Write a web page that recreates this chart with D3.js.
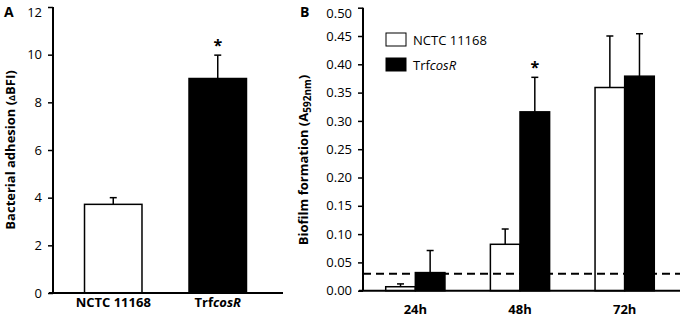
<!DOCTYPE html>
<html>
<head>
<meta charset="utf-8">
<script src="https://cdn.jsdelivr.net/npm/d3@7"></script>
<style>
  body { margin: 0; background: #fff; }
  svg { display: block; font-family: "Open Sans", sans-serif; }
  .axis path, .axis line { stroke: #000; }
  .axis text { font-size: 13px; fill: #000; font-family: "Open Sans", sans-serif; }
  .xlab text { font-weight: bold; }
</style>
</head>
<body>
<div id="chart"></div>
<script>
// Panel A: adhesion
const strains = ["NCTC 11168", "TrfcosR"];
const adhesion = [3.72, 9.0];
const adhesionErr = [0.28, 0.98];
const adhesionTicks = [0, 2, 4, 6, 8, 10, 12];

// Panel B: biofilm over time
const times = ["24h", "48h", "72h"];
const biofilmWT = [0.007, 0.082, 0.359];
const biofilmWTErr = [0.005, 0.027, 0.091];
const biofilmMut = [0.032, 0.316, 0.379];
const biofilmMutErr = [0.039, 0.061, 0.075];
const biofilmTicks = [0, 0.05, 0.1, 0.15, 0.2, 0.25, 0.3, 0.35, 0.4, 0.45, 0.5];
const threshold = 0.03;

const fills = ["#fff", "#000"];

const svg = d3.select("#chart").append("svg")
    .attr("width", 680)
    .attr("height", 319);

function styleAxis(g) {
    g.select(".domain").attr("stroke-width", 2);
    g.selectAll(".tick line").attr("stroke-width", 1.5);
}

// top tick label sits a bit lower so it isn't clipped
function nudgeTop(g) {
    const texts = g.selectAll(".tick text").nodes();
    d3.select(texts[texts.length - 1]).attr("dy", "0.75em");
}

// ---------- Panel A ----------
const xA = d3.scaleBand().domain(strains).range([61, 270])
    .paddingInner(0.45).paddingOuter(0.225);
const yA = d3.scaleLinear().domain([0, 12]).range([293, 7]);

const gA = svg.append("g");

gA.selectAll(".errA")
    .data(strains)
    .enter().append("g")
    .each(function(d, i) {
        const cx = xA(d) + xA.bandwidth() / 2;
        const top = yA(adhesion[i] + adhesionErr[i]);
        const g = d3.select(this);
        g.append("line").attr("x1", cx).attr("x2", cx)
            .attr("y1", yA(adhesion[i])).attr("y2", top)
            .attr("stroke", "#000").attr("stroke-width", 1.5);
        g.append("line").attr("x1", cx - 3.5).attr("x2", cx + 3.5)
            .attr("y1", top).attr("y2", top)
            .attr("stroke", "#000").attr("stroke-width", 1.5);
    });

gA.selectAll(".barA")
    .data(strains)
    .enter().append("rect")
    .attr("x", d => xA(d))
    .attr("width", xA.bandwidth())
    .attr("y", (d, i) => yA(adhesion[i]))
    .attr("height", (d, i) => yA(0) - yA(adhesion[i]))
    .attr("fill", (d, i) => fills[i])
    .attr("stroke", "#000")
    .attr("stroke-width", 1.5);

gA.append("g")
    .attr("class", "axis")
    .attr("transform", "translate(53,0)")
    .call(d3.axisLeft(yA).tickValues(adhesionTicks).tickSize(5).tickSizeOuter(0).tickPadding(6))
    .call(styleAxis)
    .call(nudgeTop)
    .call(g => g.select(".domain").attr("d", `M0,${yA(12)}V${yA(0)}`));

const xAxisA = gA.append("g")
    .attr("class", "axis xlab")
    .attr("transform", `translate(0,${yA(0)})`)
    .call(d3.axisBottom(xA).tickSize(0).tickPadding(5))
    .call(styleAxis)
    .call(g => g.select(".domain").attr("d", "M49,0H283"));

xAxisA.selectAll(".tick text").each(function(d) {
    if (d === "TrfcosR") {
        const t = d3.select(this).text(null);
        t.append("tspan").text("Trf");
        t.append("tspan").attr("font-style", "italic").text("cosR");
    }
});

gA.append("text")
    .attr("x", xA("TrfcosR") + xA.bandwidth() / 2)
    .attr("y", yA(adhesion[1] + adhesionErr[1]) - 4)
    .attr("text-anchor", "middle")
    .attr("font-size", 16).attr("font-weight", "bold")
    .text("*");

gA.append("text")
    .attr("x", 4).attr("y", 17)
    .attr("font-size", 14).attr("font-weight", "bold")
    .text("A");

const labA = gA.append("text")
    .attr("transform", "translate(15,150) rotate(-90)")
    .attr("text-anchor", "middle")
    .attr("font-size", 13).attr("font-weight", "bold");
labA.append("tspan").text("Bacterial adhesion (");
labA.append("tspan").attr("font-size", 9).text("Δ");
labA.append("tspan").text("BFI)");

// ---------- Panel B ----------
const x0 = d3.scaleBand().domain(times).range([363, 677])
    .paddingInner(0.434).paddingOuter(0.217);
const series = ["wt", "mut"];
const x1 = d3.scaleBand().domain(series).range([0, x0.bandwidth()]);
const yB = d3.scaleLinear().domain([0, 0.5]).range([290.7, 7.7]);

const rowsB = times.map((t, i) => [
    {t: t, s: "wt", v: biofilmWT[i], e: biofilmWTErr[i], fill: fills[0]},
    {t: t, s: "mut", v: biofilmMut[i], e: biofilmMutErr[i], fill: fills[1]}
]).flat();

const gB = svg.append("g");

gB.selectAll(".errB")
    .data(rowsB)
    .enter().append("g")
    .each(function(d) {
        const cx = x0(d.t) + x1(d.s) + x1.bandwidth() / 2;
        const top = yB(d.v + d.e);
        const g = d3.select(this);
        g.append("line").attr("x1", cx).attr("x2", cx)
            .attr("y1", yB(d.v)).attr("y2", top)
            .attr("stroke", "#000").attr("stroke-width", 1.5);
        g.append("line").attr("x1", cx - 3.5).attr("x2", cx + 3.5)
            .attr("y1", top).attr("y2", top)
            .attr("stroke", "#000").attr("stroke-width", 1.5);
    });

gB.selectAll(".barB")
    .data(rowsB)
    .enter().append("rect")
    .attr("x", d => x0(d.t) + x1(d.s))
    .attr("width", x1.bandwidth())
    .attr("y", d => yB(d.v))
    .attr("height", d => yB(0) - yB(d.v))
    .attr("fill", d => d.fill)
    .attr("stroke", "#000")
    .attr("stroke-width", 1.5);

// detection threshold
gB.append("line")
    .attr("x1", 363).attr("x2", 680)
    .attr("y1", yB(threshold)).attr("y2", yB(threshold))
    .attr("stroke", "#000").attr("stroke-width", 2)
    .attr("stroke-dasharray", "8,5");

gB.append("g")
    .attr("class", "axis")
    .attr("transform", "translate(363,0)")
    .call(d3.axisLeft(yB).tickValues(biofilmTicks).tickFormat(d3.format(".2f"))
        .tickSize(5).tickSizeOuter(0).tickPadding(6))
    .call(styleAxis)
    .call(nudgeTop)
    .call(g => g.select(".domain").attr("d", `M0,${yB(0.5)}V${yB(0)}`));

gB.append("g")
    .attr("class", "axis xlab")
    .attr("transform", `translate(0,${yB(0)})`)
    .call(d3.axisBottom(x0).tickSize(0).tickPadding(14))
    .call(styleAxis)
    .call(g => g.select(".domain").attr("d", "M359,0H680"));

gB.append("text")
    .attr("x", x0("48h") + x1("mut") + x1.bandwidth() / 2)
    .attr("y", yB(biofilmMut[1] + biofilmMutErr[1]) - 4)
    .attr("text-anchor", "middle")
    .attr("font-size", 16).attr("font-weight", "bold")
    .text("*");

gB.append("text")
    .attr("x", 300).attr("y", 17)
    .attr("font-size", 14).attr("font-weight", "bold")
    .text("B");

const labB = gB.append("text")
    .attr("transform", "translate(308,160) rotate(-90)")
    .attr("text-anchor", "middle")
    .attr("font-size", 13).attr("font-weight", "bold");
labB.append("tspan").text("Biofilm formation (A");
labB.append("tspan").attr("font-size", 10).attr("dy", 3).text("592nm");
labB.append("tspan").attr("dy", -3).text(")");

// legend
const legendNames = ["NCTC 11168", "TrfcosR"];
const leg = gB.selectAll(".leg")
    .data(legendNames)
    .enter().append("g")
    .attr("transform", (d, i) => `translate(386,${33 + i * 25})`);
leg.append("rect")
    .attr("width", 20).attr("height", 13)
    .attr("fill", (d, i) => fills[i])
    .attr("stroke", "#000").attr("stroke-width", 1);
leg.append("text")
    .attr("x", 27).attr("y", 12)
    .attr("font-size", 13)
    .each(function(d) {
        const t = d3.select(this);
        if (d === "TrfcosR") {
            t.append("tspan").text("Trf");
            t.append("tspan").attr("font-style", "italic").text("cosR");
        } else {
            t.text(d);
        }
    });
</script>
</body>
</html>
